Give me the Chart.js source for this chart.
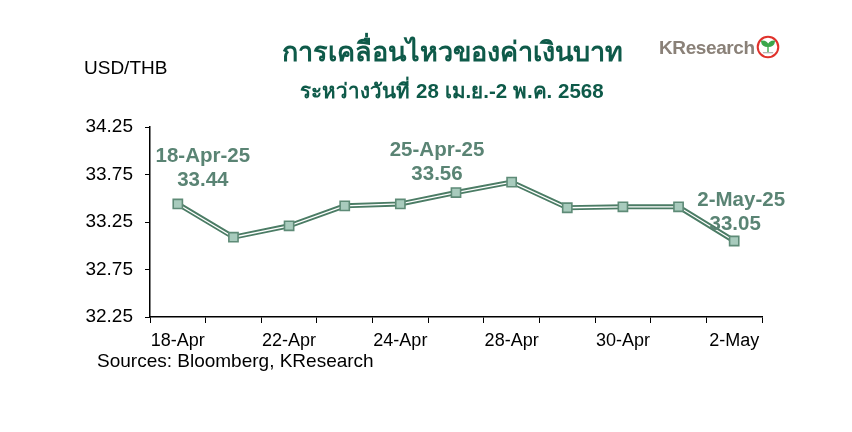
<!DOCTYPE html>
<html>
<head>
<meta charset="utf-8">
<script src="https://cdn.jsdelivr.net/npm/chart.js@4.4.1/dist/chart.umd.min.js"></script>
<style>
    html, body { margin: 0; padding: 0; background: #fff; }
    #wrap { position: relative; width: 852px; height: 432px; overflow: hidden; font-family: "Liberation Sans", Arial, sans-serif; }
    #chart { position: absolute; left: 0; top: 0; }
    .title { position: absolute; left: 0; width: 904px; text-align: center; color: #0e5a49; font-weight: bold; }
    #t1 { top: 30px; font-size: 27px; }
    #t2 { top: 74px; font-size: 20.5px; }
    #unit { position: absolute; left: 84px; top: 57px; font-size: 19px; color: #000; }
    #src { position: absolute; left: 97px; top: 350px; font-size: 19px; color: #000; }
    #logo { position: absolute; left: 659px; top: 35px; font-size: 19px; font-weight: bold; color: #8a8178; letter-spacing: -0.4px; }
    #logo svg { vertical-align: -5px; margin-left: 1px; }
</style>
</head>
<body>
<div id="wrap">
    <canvas id="chart" width="852" height="432"></canvas>
    <div class="title" id="t1">การเคลื่อนไหวของค่าเงินบาท</div>
    <div class="title" id="t2">ระหว่างวันที่ 28 เม.ย.-2 พ.ค. 2568</div>
    <div id="unit">USD/THB</div>
    <div id="src">Sources: Bloomberg, KResearch</div>
    <div id="logo">KResearch<svg width="24" height="24" viewBox="0 0 21 21">
        <circle cx="10.5" cy="10.5" r="9" fill="#fff" stroke="#e0322b" stroke-width="1.8"/>
        <path d="M10.5 15 L10.5 10 M10.5 10 C7 10 5 8 5 5.5 C8 5.5 10.5 7 10.5 10 C10.5 7 13 5.5 16 5.5 C16 8 14 10 10.5 10" fill="#3aa64a" stroke="#3aa64a" stroke-width="1.2"/>
        <path d="M6 15.5 L15 15.5" stroke="#aaa" stroke-width="1"/>
    </svg></div>
</div>
<script>
// ——— Datos ——————————————————————————————
const fechas = ["18-Apr", "21-Apr", "22-Apr", "23-Apr", "24-Apr", "25-Apr", "28-Apr", "29-Apr", "30-Apr", "1-May", "2-May"];
const usdThb = [33.44, 33.09, 33.21, 33.42, 33.44, 33.56, 33.67, 33.40, 33.41, 33.41, 33.05];
const etiquetasX = ["18-Apr", "", "22-Apr", "", "24-Apr", "", "28-Apr", "", "30-Apr", "", "2-May"];
const ticksY = [32.25, 32.75, 33.25, 33.75, 34.25];
const notas = [
    { idx: 0, texto: "18-Apr-25", valor: "33.44" },
    { idx: 5, texto: "25-Apr-25", valor: "33.56" },
    { idx: 10, texto: "2-May-25", valor: "33.05" },
];
// posicion de cada nota respecto a su punto (px): [dx, dy, dx del valor]
const notaOffset = { 0: [25, -48, 0], 5: [-19, -42, 0], 10: [7, -41, -6] };

const verdeOscuro = "#4b7c65";
const verdeNota = "#5a8474";

// ——— Plugin de etiquetas ——————————————————
const pluginNotas = {
    id: "notas",
    afterDatasetsDraw(chart) {
        const ctx = chart.ctx;
        const x = chart.scales.x;
        const y = chart.scales.y;
        ctx.save();
        ctx.fillStyle = verdeNota;
        ctx.font = "bold 20.5px 'Liberation Sans', Arial, sans-serif";
        ctx.textAlign = "center";
        ctx.textBaseline = "middle";
        notas.forEach((n) => {
            const px = x.getPixelForValue(n.idx);
            const py = y.getPixelForValue(usdThb[n.idx]);
            const [dx, dy, dv] = notaOffset[n.idx];
            ctx.fillText(n.texto, px + dx, py + dy);
            ctx.fillText(n.valor, px + dx + dv, py + dy + 24);
        });
        ctx.restore();
    },
};

const ctx = document.getElementById("chart").getContext("2d");
new Chart(ctx, {
    type: "line",
    data: {
        labels: fechas,
        datasets: [
            {
                data: usdThb,
                borderColor: verdeOscuro,
                borderWidth: 5,
                pointRadius: 0,
                tension: 0,
                order: 3,
            },
            {
                data: usdThb,
                borderColor: "#ffffff",
                borderWidth: 1.3,
                pointRadius: 0,
                tension: 0,
                order: 2,
            },
            {
                data: usdThb,
                showLine: false,
                pointStyle: "rect",
                pointRadius: 6.5,
                pointBackgroundColor: "#a8cbbd",
                pointBorderColor: "#5e8b77",
                pointBorderWidth: 1.6,
                order: 1,
            },
        ],
    },
    plugins: [pluginNotas],
    options: {
        responsive: false,
        animation: false,
        layout: { padding: { left: 0, right: 90, top: 127, bottom: 75 } },
        plugins: { legend: { display: false }, tooltip: { enabled: false } },
        scales: {
            x: {
                offset: true,
                grid: { offset: true, drawOnChartArea: false, drawTicks: true, tickLength: 6, color: "#000" },
                border: { display: true, color: "#000", width: 1.5 },
                ticks: {
                    autoSkip: false,
                    maxRotation: 0,
                    color: "#000",
                    padding: 7,
                    font: { size: 18, family: "'Liberation Sans', Arial, sans-serif" },
                    callback: (v, i) => etiquetasX[i],
                },
                afterFit: (s) => { s.height = 40; },
            },
            y: {
                min: ticksY[0],
                max: ticksY[ticksY.length - 1],
                afterBuildTicks: (s) => { s.ticks = ticksY.map((v) => ({ value: v })); },
                grid: { drawOnChartArea: false, drawTicks: true, tickLength: 5, color: "#000" },
                border: { display: true, color: "#000", width: 1.5 },
                ticks: {
                    color: "#000",
                    padding: 12,
                    font: { size: 19, family: "'Liberation Sans', Arial, sans-serif" },
                    callback: (v) => v.toFixed(2),
                },
                afterFit: (s) => { s.width = 150; },
            },
        },
    },
});
</script>
</body>
</html>
